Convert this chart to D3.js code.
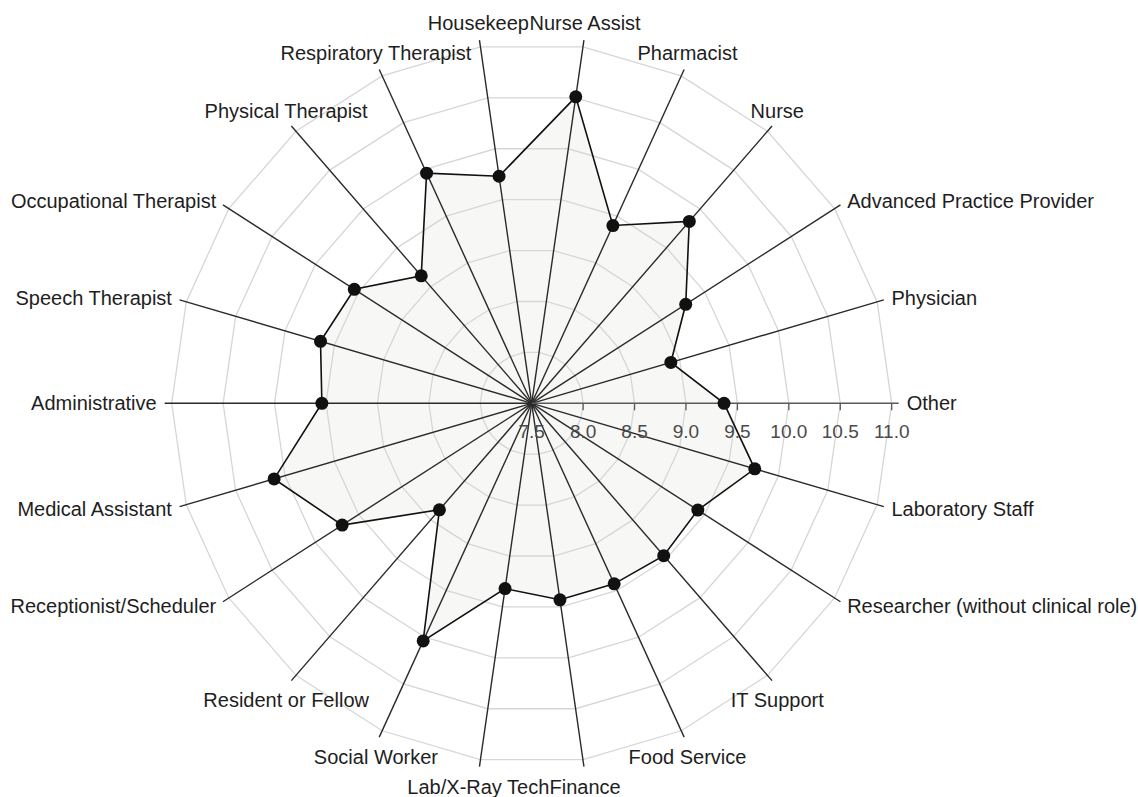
<!DOCTYPE html>
<html>
<head>
<meta charset="utf-8">
<script src="https://cdn.jsdelivr.net/npm/d3@7"></script>
<style>
    body { margin: 0; background: #fff; }
    svg { display: block; }
    text { font-family: Arial, "Liberation Sans", sans-serif; }
</style>
</head>
<body>
<svg width="1138" height="797"></svg>
<script>

// categories, counter-clockwise starting just above the east axis ("Other" last, at 0 deg)
var categories = ["Physician", "Advanced Practice Provider", "Nurse", "Pharmacist", "Nurse Assist",
    "Housekeep", "Respiratory Therapist", "Physical Therapist", "Occupational Therapist",
    "Speech Therapist", "Administrative", "Medical Assistant", "Receptionist/Scheduler",
    "Resident or Fellow", "Social Worker", "Lab/X-Ray Tech", "Finance", "Food Service",
    "IT Support", "Researcher (without clinical role)", "Laboratory Staff", "Other"];

var values = [8.91, 9.28, 9.84, 9.40, 10.51,
    9.73, 9.96, 9.14, 9.55,
    9.64, 9.54, 10.11, 9.69,
    8.87, 10.04, 9.32, 9.43, 9.43,
    9.46, 9.42, 9.76, 9.37];

var tickValues = [7.5, 8.0, 8.5, 9.0, 9.5, 10.0, 10.5, 11.0];

var cx = 531.7, cy = 403.3
    , outer = 360
    , spokeLen = 367
    , labelR = 375;

var n = categories.length;
var step = 2 * Math.PI / n;

var r = d3.scaleLinear()
    .domain([tickValues[0], tickValues[tickValues.length - 1]])
    .range([0, outer]);

function angle(i) { return (i + 1) * step; } // measured ccw from east

function px(a, rad) { return rad * Math.cos(a); }
function py(a, rad) { return -rad * Math.sin(a); }

var svg = d3.select("svg").append("g")
    .attr("transform", "translate(" + cx + "," + cy + ")");

var data = categories.map(function (c, i) {
    return { name: c, value: values[i], a: angle(i) };
});

// filled area
var radarLine = d3.lineRadial()
    .angle(function (d) { return Math.PI / 2 - d.a; })
    .radius(function (d) { return r(d.value); })
    .curve(d3.curveLinearClosed);

svg.append("path")
    .datum(data)
    .attr("d", radarLine)
    .attr("fill", "#f7f7f6")
    .attr("stroke", "none");

// grid polygons
var gridLine = d3.lineRadial()
    .angle(function (d) { return Math.PI / 2 - d.a; })
    .radius(function (d) { return d.rad; })
    .curve(d3.curveLinearClosed);

svg.append("g")
    .attr("class", "grid")
    .selectAll("path")
    .data(tickValues.slice(1))
    .enter()
    .append("path")
    .attr("d", function (t) {
        return gridLine(data.map(function (d) { return { a: d.a, rad: r(t) }; }));
    })
    .attr("fill", "none")
    .attr("stroke", "#d6d6d6")
    .attr("stroke-width", 1.3);

// spokes
svg.append("g")
    .attr("class", "spokes")
    .selectAll("line")
    .data(data)
    .enter()
    .append("line")
    .attr("x1", 0)
    .attr("y1", 0)
    .attr("x2", function (d) { return px(d.a, spokeLen); })
    .attr("y2", function (d) { return py(d.a, spokeLen); })
    .attr("stroke", function (d, i) { return i == n - 1 ? "#5a5a5a" : "#2a2a2a"; })
    .attr("stroke-width", 1.4);

// value axis on the east spoke
var axisG = svg.append("g").attr("class", "value-axis");

axisG.selectAll("line")
    .data(tickValues.slice(1))
    .enter()
    .append("line")
    .attr("x1", function (t) { return r(t); })
    .attr("x2", function (t) { return r(t); })
    .attr("y1", 0)
    .attr("y2", 7)
    .attr("stroke", "#5a5a5a")
    .attr("stroke-width", 1.3);

axisG.selectAll("text")
    .data(tickValues)
    .enter()
    .append("text")
    .attr("x", function (t) { return r(t); })
    .attr("y", 35)
    .attr("text-anchor", "middle")
    .attr("font-size", "19px")
    .attr("fill", "#4a4a4a")
    .text(d3.format(".1f"));

// value line
svg.append("path")
    .datum(data)
    .attr("d", radarLine)
    .attr("fill", "none")
    .attr("stroke", "#111")
    .attr("stroke-width", 1.6);

svg.append("g")
    .selectAll("circle")
    .data(data)
    .enter()
    .append("circle")
    .attr("cx", function (d) { return px(d.a, r(d.value)); })
    .attr("cy", function (d) { return py(d.a, r(d.value)); })
    .attr("r", 6.5)
    .attr("fill", "#111");

// category labels
svg.append("g")
    .attr("class", "labels")
    .selectAll("text")
    .data(data)
    .enter()
    .append("text")
    .attr("x", function (d) { return px(d.a, labelR); })
    .attr("y", function (d) {
        var y = py(d.a, labelR);
        var c = Math.cos(d.a), s = Math.sin(d.a);
        if (Math.abs(c) > 0.8) return y + 7;
        return s > 0 ? y - 2 : y + 20;
    })
    .attr("text-anchor", function (d) {
        var c = Math.cos(d.a);
        if (c > 0.8) return "start";
        if (c < -0.8) return "end";
        return "middle";
    })
    .attr("font-size", "20px")
    .attr("fill", "#1e1e1e")
    .text(function (d) { return d.name; });

</script>
</body>
</html>
